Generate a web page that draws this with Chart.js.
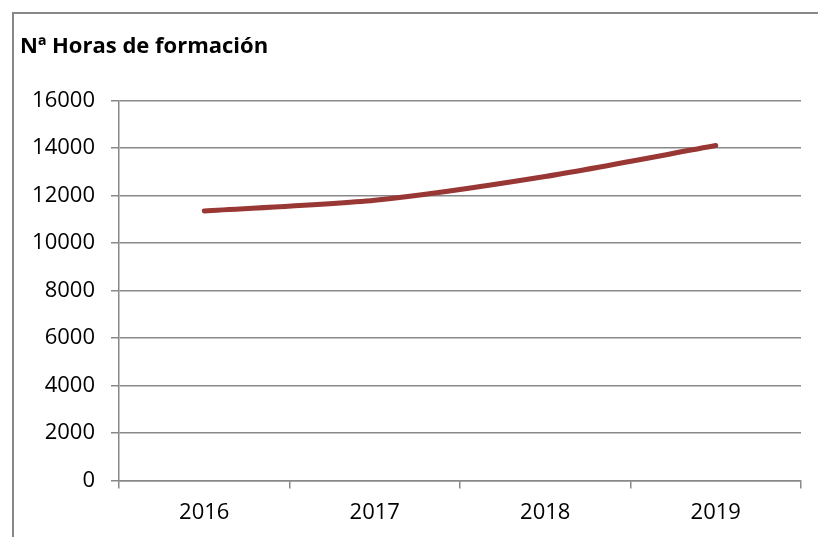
<!DOCTYPE html>
<html>
<head>
<meta charset="utf-8">
<script src="https://cdn.jsdelivr.net/npm/chart.js@4"></script>
<style>
  body { margin: 0; background: #fff; }
  #frame {
    position: absolute; left: 12px; top: 12px;
    width: 806px; height: 525px;
    border-top: 2px solid #888; border-left: 2px solid #888;
    box-sizing: border-box;
  }
  #frame canvas { display: block; }
</style>
</head>
<body>
<div id="frame"><canvas id="myChart" width="804" height="523"></canvas></div>
<script>
// data
const years = ["2016", "2017", "2018", "2019"];
const horas = [11350, 11800, 12800, 14100];
const yMin = 0;
const yMax = 16000;
const yStep = 2000;

const gridColor = "#888";
const font = "'Open Sans', 'Liberation Sans', sans-serif";

new Chart(document.getElementById("myChart"), {
  type: "line",
  data: {
    labels: years,
    datasets: [{
      label: "Nª Horas de formación",
      data: horas,
      borderColor: "#993735",
      borderWidth: 5,
      borderCapStyle: "round",
      pointRadius: 0,
      tension: 0.25,
      fill: false
    }]
  },
  options: {
    responsive: false,
    animation: false,
    layout: { padding: { left: 6, right: 17, top: 0, bottom: 0 } },
    plugins: {
      legend: { display: false },
      tooltip: { enabled: false },
      title: {
        display: true,
        text: "Nª Horas de formación",
        align: "start",
        color: "#000",
        font: { family: font, size: 22, weight: "bold", lineHeight: 1.2 },
        padding: { top: 20, bottom: 40 }
      }
    },
    scales: {
      x: {
        offset: true,
        grid: {
          offset: true,
          drawOnChartArea: false,
          drawTicks: true,
          tickLength: 8,
          color: gridColor,
          lineWidth: 1.5
        },
        border: { color: gridColor, width: 1.5 },
        ticks: { color: "#000", padding: 11, font: { family: font, size: 22 } }
      },
      y: {
        min: yMin,
        max: yMax,
        ticks: {
          stepSize: yStep,
          color: "#000",
          padding: 16,
          font: { family: font, size: 22 },
          callback: (v) => String(v)
        },
        grid: { color: gridColor, lineWidth: 1.5, tickLength: 8 },
        border: { color: gridColor, width: 1.5 },
        afterFit: (scale) => { scale.width = 99; }
      }
    }
  }
});
</script>
</body>
</html>
